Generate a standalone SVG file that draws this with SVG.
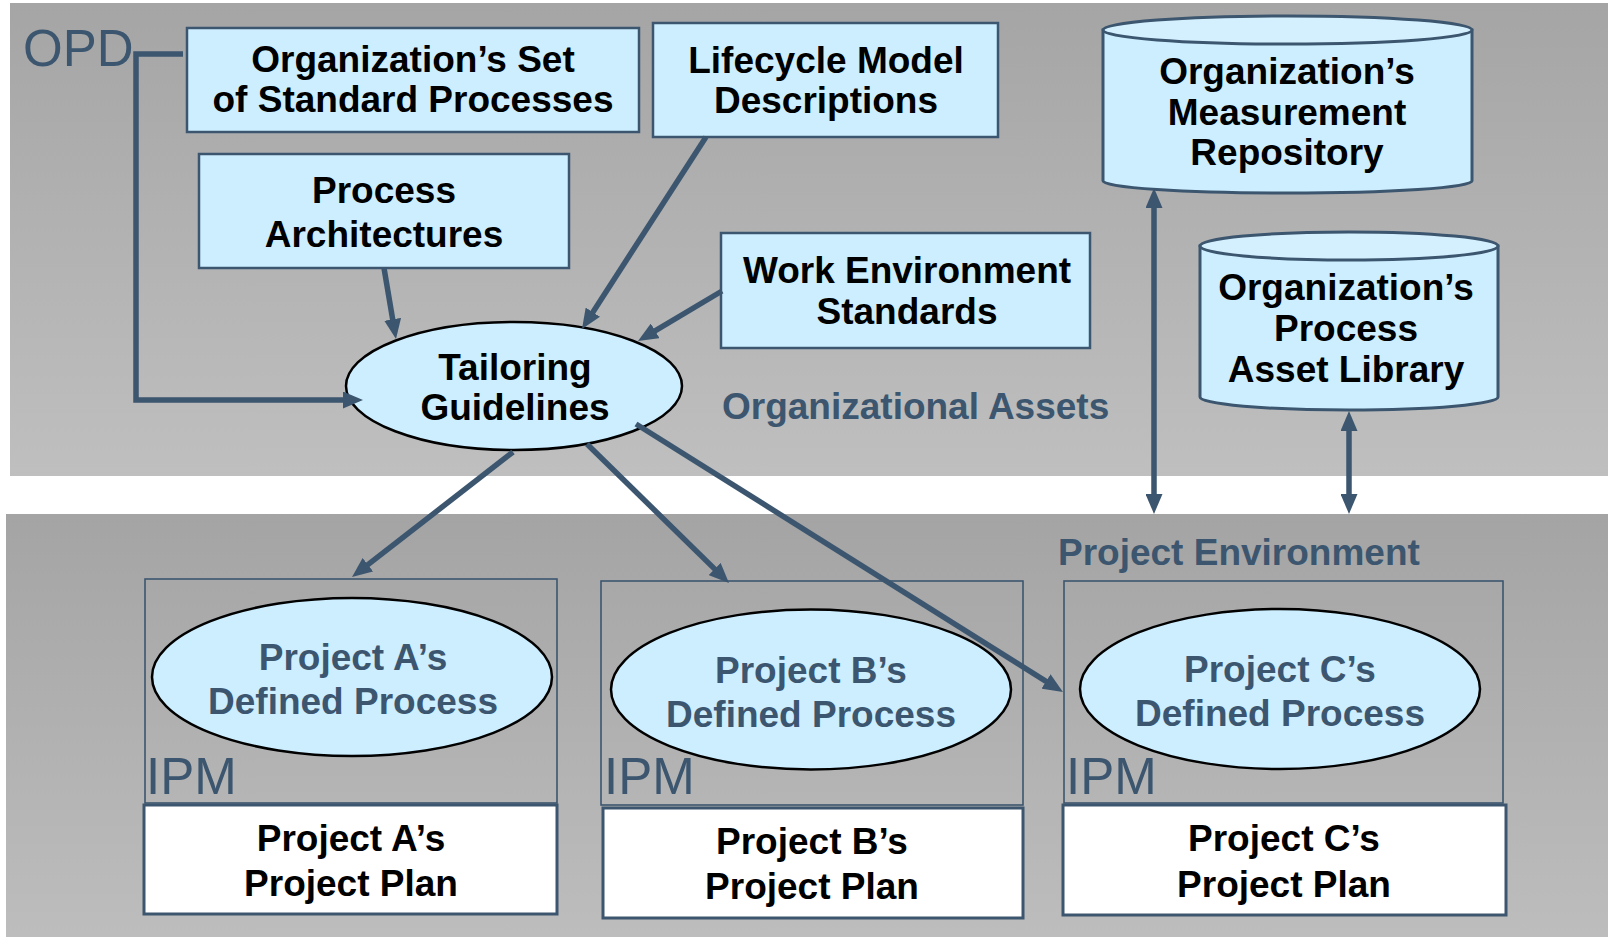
<svg xmlns="http://www.w3.org/2000/svg" width="1608" height="937" viewBox="0 0 1608 937">
<defs>
<linearGradient id="gTop" x1="0" y1="0" x2="0" y2="1">
<stop offset="0" stop-color="#a5a5a5"/>
<stop offset="1" stop-color="#bfbfbf"/>
</linearGradient>
<linearGradient id="gBot" x1="0" y1="0" x2="0" y2="1">
<stop offset="0" stop-color="#a4a4a4"/>
<stop offset="1" stop-color="#bdbdbd"/>
</linearGradient>
<marker id="ah" viewBox="0 0 20 17" refX="8" refY="8.5" markerWidth="20" markerHeight="17" markerUnits="userSpaceOnUse" orient="auto">
<path d="M0,0 L20,8.5 L0,17 z" fill="#3c566f"/>
</marker>
<marker id="ahs" viewBox="0 0 20 17" refX="8" refY="8.5" markerWidth="20" markerHeight="17" markerUnits="userSpaceOnUse" orient="auto-start-reverse">
<path d="M0,0 L20,8.5 L0,17 z" fill="#3c566f"/>
</marker>
</defs>
<style>
.t{font-family:"Liberation Sans",Arial,Helvetica,sans-serif;font-weight:bold;font-size:37px;fill:#000;text-anchor:middle}
.s{fill:#3c566f}
.l{font-family:"Liberation Sans",Arial,Helvetica,sans-serif;font-weight:bold;font-size:37px;fill:#3c566f}
.big{font-family:"Liberation Sans",Arial,Helvetica,sans-serif;font-size:51px;fill:#3c566f}
.box{fill:#cceeff;stroke:#3c566f;stroke-width:2.5}
.ell{fill:#cceeff;stroke:#000;stroke-width:2.5}
.cyl{fill:#cceeff;stroke:#3c566f;stroke-width:3}
.cyltop{fill:#d4f0ff;stroke:#3c566f;stroke-width:3}
.frame{fill:none;stroke:#3c566f;stroke-width:1.6}
.plan{fill:#fff;stroke:#3c566f;stroke-width:3}
.c{fill:none;stroke:#3c566f;stroke-width:5.5;marker-end:url(#ah)}
.d{fill:none;stroke:#3c566f;stroke-width:5.5;marker-end:url(#ah);marker-start:url(#ahs)}
</style>
<rect x="0" y="0" width="1608" height="937" fill="#fff"/>
<rect id="panel-org" x="10" y="3" width="1598" height="473" fill="url(#gTop)"/>
<rect id="panel-proj" x="6" y="514" width="1602" height="423" fill="url(#gBot)"/>

<text x="23" y="66" class="big">OPD</text>
<text x="722" y="419" class="l">Organizational Assets</text>
<text x="1058" y="565" class="l">Project Environment</text>

<g id="oss">
<rect x="187" y="28" width="452" height="104" class="box"/>
<text x="413" y="71.5" class="t">Organization’s Set</text>
<text x="413" y="111.5" class="t">of Standard Processes</text>
</g>
<g id="lifecycle">
<rect x="653" y="23" width="345" height="114" class="box"/>
<text x="826" y="73" class="t">Lifecycle Model</text>
<text x="826" y="113" class="t">Descriptions</text>
</g>
<g id="procarch">
<rect x="199" y="154" width="370" height="114" class="box"/>
<text x="384" y="202.5" class="t">Process</text>
<text x="384" y="246.5" class="t">Architectures</text>
</g>
<g id="workenv">
<rect x="721" y="233" width="369" height="115" class="box"/>
<text x="907" y="282.5" class="t">Work Environment</text>
<text x="907" y="323.5" class="t">Standards</text>
</g>
<g id="measrepo">
<path d="M1103,30 L1103,181 A184.5,12 0 0 0 1472,181 L1472,30 Z" class="cyl"/>
<ellipse cx="1287.5" cy="30" rx="184.5" ry="14" class="cyltop"/>
<text x="1287" y="83.5" class="t">Organization’s</text>
<text x="1287" y="124.5" class="t">Measurement</text>
<text x="1287" y="164.5" class="t">Repository</text>
</g>
<g id="pal">
<path d="M1200,246 L1200,397 A149,13 0 0 0 1498,397 L1498,246 Z" class="cyl"/>
<ellipse cx="1349" cy="246" rx="149" ry="14" class="cyltop"/>
<text x="1346" y="299.5" class="t">Organization’s</text>
<text x="1346" y="340.5" class="t">Process</text>
<text x="1346" y="381.5" class="t">Asset Library</text>
</g>
<g id="tailoring">
<ellipse cx="514" cy="386" rx="168" ry="64" class="ell"/>
<text x="515" y="379.5" class="t">Tailoring</text>
<text x="515" y="419.5" class="t">Guidelines</text>
</g>

<g id="projA">
<rect x="145" y="579" width="412" height="224" class="frame"/>
<ellipse cx="352" cy="677" rx="200" ry="79" class="ell"/>
<text x="353" y="669.5" class="t s">Project A’s</text>
<text x="353" y="713.5" class="t s">Defined Process</text>
<text x="146" y="794" class="big">IPM</text>
</g>
<g id="planA">
<rect x="144" y="805" width="413" height="109" class="plan"/>
<text x="351" y="850.5" class="t">Project A’s</text>
<text x="351" y="895.5" class="t">Project Plan</text>
</g>
<g id="projB">
<rect x="601" y="581" width="422" height="224" class="frame"/>
<ellipse cx="811" cy="689.5" rx="200" ry="80" class="ell"/>
<text x="811" y="682.5" class="t s">Project B’s</text>
<text x="811" y="726.5" class="t s">Defined Process</text>
<text x="604" y="794" class="big">IPM</text>
</g>
<g id="planB">
<rect x="603" y="808" width="420" height="110" class="plan"/>
<text x="812" y="853.5" class="t">Project B’s</text>
<text x="812" y="898.5" class="t">Project Plan</text>
</g>
<g id="projC">
<rect x="1064" y="581" width="439" height="222" class="frame"/>
<ellipse cx="1280" cy="689" rx="200" ry="80" class="ell"/>
<text x="1280" y="681.5" class="t s">Project C’s</text>
<text x="1280" y="725.5" class="t s">Defined Process</text>
<text x="1066" y="794" class="big">IPM</text>
</g>
<g id="planC">
<rect x="1063" y="805" width="443" height="110" class="plan"/>
<text x="1284" y="850.5" class="t">Project C’s</text>
<text x="1284" y="896.5" class="t">Project Plan</text>
</g>

<g id="connectors">
<path d="M183,54 H136 V400 H351" class="c" stroke-linejoin="miter"/>
<path d="M384,268 L394,327.2" class="c"/>
<path d="M706,137 L588.5,318.9" class="c"/>
<path d="M722,291 L648.3,334.9" class="c"/>
<path d="M513,452 L361.5,569.6" class="c"/>
<path d="M587,444 L720.4,574.6" class="c"/>
<path d="M636,424 L1052.8,685.6" class="c"/>
<path d="M1154,200 L1154,502" class="d"/>
<path d="M1349,423 L1349,502" class="d"/>
</g>
</svg>
